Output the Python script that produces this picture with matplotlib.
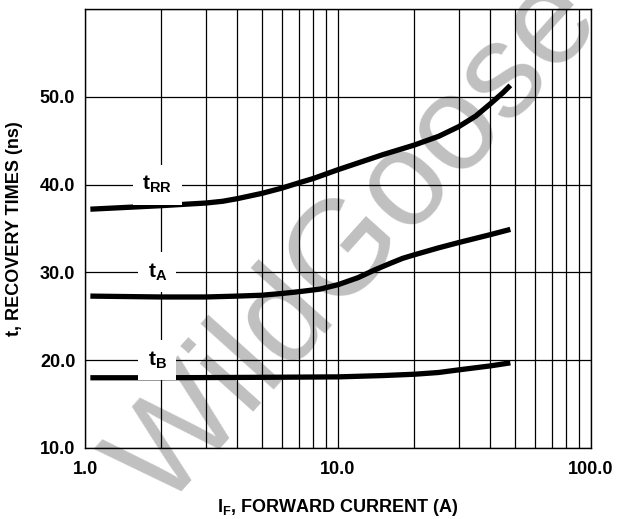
import matplotlib
matplotlib.use('Agg')
from matplotlib import pyplot as plt
from matplotlib.ticker import FixedLocator, FixedFormatter, NullFormatter

plt.rcParams['font.family'] = ['Liberation Sans', 'DejaVu Sans']
plt.rcParams['mathtext.fontset'] = 'custom'
plt.rcParams['mathtext.bf'] = 'Liberation Sans:bold'
plt.rcParams['mathtext.rm'] = 'Liberation Sans:bold'

# curves (I_F in A, t in ns)
trr_x = [1.05, 2, 3, 3.5, 4, 5, 6, 7, 8, 10, 15, 20, 25, 30, 35, 40, 45, 48]
trr_y = [37.2, 37.6, 37.9, 38.1, 38.4, 39.0, 39.6, 40.2, 40.7, 41.7, 43.4, 44.5,
         45.5, 46.6, 47.8, 49.2, 50.5, 51.3]

ta_x = [1.05, 2, 3, 4, 5, 6, 7, 8.5, 10, 12, 14, 16, 18, 20, 25, 30, 40, 48]
ta_y = [27.3, 27.2, 27.2, 27.3, 27.4, 27.6, 27.8, 28.1, 28.6, 29.4, 30.3, 31.0,
        31.6, 32.0, 32.8, 33.4, 34.3, 34.9]

tb_x = [1.05, 2, 5, 10, 15, 20, 25, 30, 40, 48]
tb_y = [18.0, 18.0, 18.05, 18.1, 18.25, 18.4, 18.6, 18.9, 19.35, 19.7]

curve_labels = [r'$\mathbf{t_{RR}}$', r'$\mathbf{t_{A}}$', r'$\mathbf{t_{B}}$']
label_y = [40, 30, 20]

x_ticks = [1, 10, 100]
x_ticklabels = ['1.0', '10.0', '100.0']
x_minor = [2, 3, 4, 5, 6, 7, 8, 9, 20, 30, 40, 50, 60, 70, 80, 90]
y_ticks = [10, 20, 30, 40, 50]
y_ticklabels = ['10.0', '20.0', '30.0', '40.0', '50.0']

fig = plt.figure(figsize=(6.17, 5.19), dpi=100, facecolor='white')
ax = fig.add_axes([85/617, 1-448/519, (591-85)/617, (448-9)/519])
ax.set_facecolor('none')
ax.set_zorder(1)

# watermark, under the grid
fig.text(357/617, 1-243/519, 'WildGoose', fontsize=97, color='#c0c0c0',
         rotation=48, ha='center', va='center', family='Liberation Sans',
         zorder=0)

ax.set_xscale('log')
ax.set_xlim(1, 100)
ax.set_ylim(10, 60)
ax.xaxis.set_major_locator(FixedLocator(x_ticks))
ax.xaxis.set_major_formatter(FixedFormatter(x_ticklabels))
ax.xaxis.set_minor_locator(FixedLocator(x_minor))
ax.xaxis.set_minor_formatter(NullFormatter())
ax.yaxis.set_major_locator(FixedLocator(y_ticks + [60]))
ax.yaxis.set_major_formatter(FixedFormatter(y_ticklabels + ['']))
ax.tick_params(which='both', length=0)
ax.tick_params(axis='x', pad=9, labelsize=13)
ax.tick_params(axis='y', pad=7, labelsize=13)
for lab in ax.get_xticklabels() + ax.get_yticklabels():
    lab.set_fontweight('bold')

ax.grid(True, which='both', color='black', lw=0.9)
for s in ax.spines.values():
    s.set_linewidth(1.0)

for xs, ys in [(trr_x, trr_y), (ta_x, ta_y), (tb_x, tb_y)]:
    ax.plot(xs, ys, color='black', lw=3.8, solid_capstyle='butt',
            solid_joinstyle='round', zorder=3)

for lab, yy in zip(curve_labels, label_y):
    ax.text(1.93, yy, lab, fontsize=15, ha='center', va='center', zorder=4,
            bbox=dict(boxstyle='square,pad=0.45', fc='white', ec='none'))

ax.set_xlabel(r'I$_{\mathbf{F}}$, FORWARD CURRENT (A)', fontsize=13,
              fontweight='bold', labelpad=14)
ax.set_ylabel('t, RECOVERY TIMES (ns)', fontsize=13, fontweight='bold',
              labelpad=12)

fig.savefig('out.png', dpi=100, facecolor='white')
